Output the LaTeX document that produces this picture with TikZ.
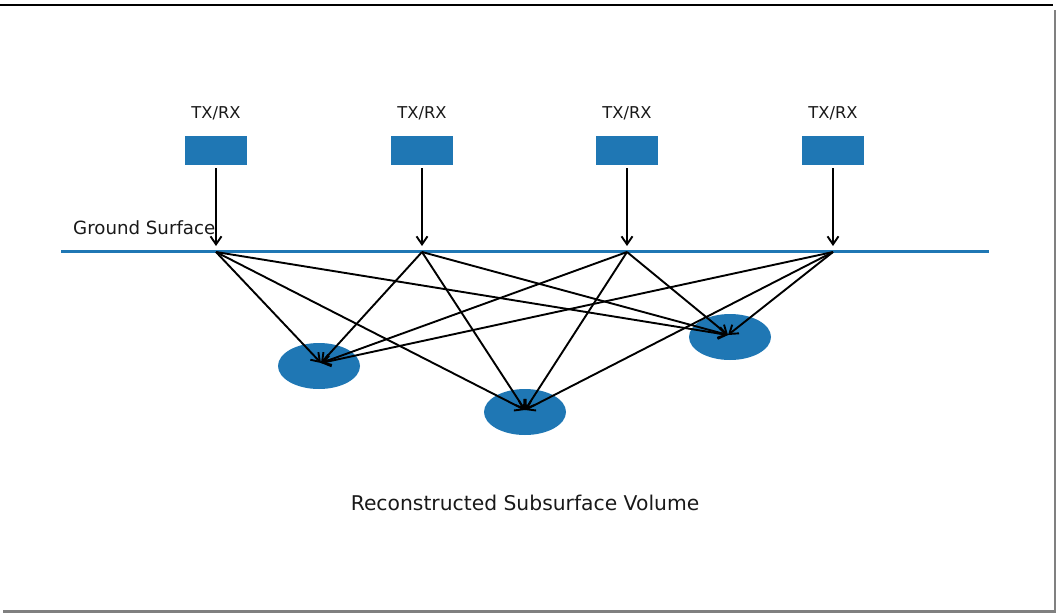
\documentclass[tikz,border=0pt]{standalone}
\usepackage{fontspec}
\setmainfont{DejaVu Sans}
\usetikzlibrary{arrows.meta,shapes.geometric}
\definecolor{mplblue}{HTML}{1F77B4}
\begin{document}
\begin{tikzpicture}[x=1pt,y=-1pt,
  trx/.style={fill=mplblue,draw=none,minimum width=62pt,minimum height=29pt,inner sep=0pt},
  target/.style={ellipse,fill=mplblue,draw=none,minimum width=82pt,minimum height=46pt,inner sep=0pt},
  lbl/.style={font=\fontsize{16.3}{18}\selectfont,text=black!90,inner sep=0pt},
  ray/.style={black,line width=1.9pt,-{Straight Barb[length=8pt,width=11pt,line width=1.9pt]}},
  frame/.style={line width=1.6pt}]
\useasboundingbox (0,0) rectangle (1057,613);
% frame
\draw[frame,black] (0,5) -- (1053,5);
\draw[frame,black!50,line width=2.2pt] (1055,10) -- (1055,611.5) -- (3,611.5);
% TX/RX units
\foreach \i/\x in {1/216,2/422,3/627,4/833}{
  \node[trx] (b\i) at (\x,150.5) {};
  \node[lbl] (l\i) at (\x,113) {TX/RX};
  \coordinate (g\i) at (\x,252);
  \coordinate (s\i) at (\x,246);
}
% ground
\coordinate (gl) at (61,251);
\coordinate (gr) at (989,251);
\draw[mplblue,line width=3pt] (gl) -- (gr);
\node[lbl,font=\fontsize{18.2}{20}\selectfont,anchor=west] (gs) at (73,228) {Ground Surface};
% targets
\node[target] (e1) at (319,366) {};
\node[target] (e2) at (525,412) {};
\node[target] (e3) at (730,337) {};
\coordinate (t1) at (321,363);
\coordinate (t2) at (525,410);
\coordinate (t3) at (728,335);
% vertical arrows
\foreach \i in {1,2,3,4}{
  \draw[ray] (b\i.south) ++(0,3) -- (s\i);
}
% rays
\foreach \i in {1,2,3,4}{
  \foreach \j in {1,2,3}{
    \draw[ray] (g\i) -- (t\j);
  }
}
\node[lbl,font=\fontsize{20.3}{22}\selectfont] (title) at (525,503) {Reconstructed Subsurface Volume};
\end{tikzpicture}
\end{document}
